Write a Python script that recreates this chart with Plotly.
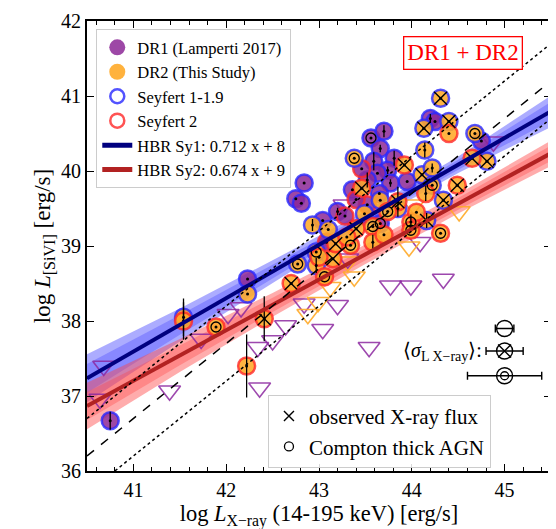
import plotly.graph_objects as go

# ---------------- data ----------------
# DR1 (Lamperti 2017), Seyfert 1-1.9
dr1_sy1_x = [44.20, 44.25, 43.56, 43.70, 43.66, 43.59, 43.81, 43.74, 43.36, 43.77, 43.65, 42.84, 42.75, 42.81,
             43.20, 43.04, 43.63, 43.95, 42.23, 40.75, 43.66, 44.75, 43.52]
dr1_sy1_y = [40.70, 40.66, 40.44, 40.53, 40.30, 40.13, 40.17, 40.01, 39.75, 39.84, 39.70, 39.84, 39.63, 39.57,
             39.46, 39.34, 39.97, 39.86, 38.56, 36.67, 39.30, 40.40, 39.88]
dr1_sy1_flag = ["", "", "ct", "", "", "", "", "", "", "", "", "", "", "",
                "", "", "", "", "", "", "ct", "", ""]
dr1_sy1_err = [0.06, 0, 0, 0.08, 0.05, 0.12, 0.10, 0.05, 0, 0.05, 0, 0, 0, 0,
               0.05, 0, 0, 0, 0, 0.12, 0, 0, 0.10]

# DR1, Seyfert 2
dr1_sy2_x = [43.46, 43.28, 43.08, 43.52, 43.40]
dr1_sy2_y = [40.03, 39.40, 39.05, 39.55, 39.62]
dr1_sy2_flag = ["", "", "", "", ""]
dr1_sy2_err = [0, 0, 0, 0, 0]

# DR2 (This Study), Seyfert 1-1.9
dr2_sy1_x = [44.31, 44.40, 44.13, 44.68, 44.14, 44.11, 44.81, 44.34, 44.22, 44.16, 43.38, 42.93, 42.97, 43.49,
             43.66, 44.22, 42.23, 41.54, 42.77, 42.97, 43.10, 43.85]
dr2_sy1_y = [40.97, 40.66, 40.57, 40.50, 40.28, 39.95, 40.13, 39.61, 40.04, 39.34, 40.17, 39.28, 38.74, 39.43,
             39.61, 39.81, 38.36, 38.05, 38.76, 38.92, 39.22, 39.50]
dr2_sy1_flag = ["x", "x", "x", "ct", "", "x", "x", "x", "", "x", "ct", "", "", "",
                "", "ct", "", "", "ct", "ct", "", ""]
dr2_sy1_err = [0, 0, 0, 0, 0.10, 0, 0, 0, 0.06, 0.10, 0, 0.08, 0.10, 0,
               0, 0, 0, 0.25, 0, 0, 0, 0]

# DR2, Seyfert 2
dr2_sy2_x = [44.40, 43.92, 44.65, 44.49, 44.31, 43.99, 43.99, 43.46, 42.70, 43.15, 43.06, 41.54, 41.89, 42.41,
             42.22, 43.85, 43.18, 43.34, 43.40, 43.58, 43.74, 43.58, 44.15, 43.30, 43.00, 43.70, 44.05]
dr2_sy2_y = [40.50, 40.08, 40.17, 39.81, 39.17, 39.32, 39.21, 39.77, 38.50, 38.83, 38.59, 38.00, 37.92, 38.03,
             37.40, 39.59, 39.03, 39.01, 39.23, 39.26, 39.46, 39.05, 39.70, 39.12, 38.85, 39.15, 39.45]
dr2_sy2_flag = ["", "x", "x", "x", "ct", "ct", "ct", "x", "x", "x", "ct", "", "ct", "x",
                "", "x", "x", "ct", "x", "ct", "ct", "", "", "", "", "", ""]
dr2_sy2_err = [0, 0, 0, 0, 0, 0.10, 0, 0, 0, 0, 0, 0.25, 0, 0.30,
               0.42, 0.20, 0, 0, 0, 0, 0, 0.10, 0.10, 0, 0, 0, 0]

# upper limits
dr1_ul_x = [40.68, 40.64, 41.39, 41.73, 42.02, 42.16, 42.34, 42.36, 42.50, 42.64, 42.84, 43.04, 43.20, 43.54,
            43.77, 43.99, 44.34, 44.09, 43.27, 43.31, 44.88]
dr1_ul_y = [37.40, 36.96, 37.07, 37.76, 38.09, 38.18, 37.65, 37.11, 37.74, 37.94, 38.23, 37.89, 38.21, 37.65,
            38.47, 38.47, 38.56, 39.05, 39.55, 38.83, 40.39]
dr2_ul_x = [42.88, 42.99, 43.31, 43.38, 43.97, 44.51, 44.02, 43.12]
dr2_ul_y = [38.09, 38.25, 38.79, 38.59, 38.99, 39.46, 39.55, 38.45]

# fitted relations (HBR)
sy1_slope, sy1_icpt = 0.712, 8.40
sy2_slope, sy2_icpt = 0.674, 9.57
band_x = [40.5, 41.5, 42.5, 43.5, 44.5, 45.5]
sy1_band_hw = [0.32, 0.22, 0.15, 0.09, 0.11, 0.21]
sy2_band_hw = [0.31, 0.22, 0.16, 0.13, 0.13, 0.17]

# 1:1 reference relation and scatter
ref_offset = -4.3
ref_scatter = 0.5

# mean X-ray uncertainty symbols
sig_y = [37.9, 37.6, 37.27]
sig_err = [0.10, 0.20, 0.40]
sig_x = 45.0

x_range = [40.5, 45.5]
y_range = [36, 42]

# ---------------- style ----------------
PURPLE = "rgba(140,40,150,0.85)"
ORANGE = "rgba(255,170,40,0.88)"
BLUE_E = "rgba(40,40,255,0.8)"
RED_E = "rgba(255,40,40,0.8)"
FONT = "Liberation Serif"

fig = go.Figure()

def band(xs, slope, icpt, hw, frac, color):
    yc = [slope * x + icpt for x in xs]
    up = [c + h * frac for c, h in zip(yc, hw)]
    lo = [c - h * frac for c, h in zip(yc, hw)]
    fig.add_trace(go.Scatter(x=xs + xs[::-1], y=up + lo[::-1], fill="toself", fillcolor=color,
                             line=dict(width=0), mode="lines", showlegend=False, hoverinfo="skip"))

band(band_x, sy1_slope, sy1_icpt, sy1_band_hw, 1.0, "rgba(70,70,255,0.45)")
band(band_x, sy1_slope, sy1_icpt, sy1_band_hw, 0.6, "rgba(70,70,255,0.35)")
band(band_x, sy2_slope, sy2_icpt, sy2_band_hw, 1.0, "rgba(255,70,70,0.45)")
band(band_x, sy2_slope, sy2_icpt, sy2_band_hw, 0.6, "rgba(255,70,70,0.35)")

# upper limits
fig.add_trace(go.Scatter(x=dr1_ul_x, y=dr1_ul_y, mode="markers", showlegend=False,
                         marker=dict(symbol="triangle-down-open", size=19, color="rgba(140,40,160,0.85)",
                                     line=dict(width=1.6))))
fig.add_trace(go.Scatter(x=dr2_ul_x, y=dr2_ul_y, mode="markers", showlegend=False,
                         marker=dict(symbol="triangle-down-open", size=19, color="rgba(255,170,40,0.9)",
                                     line=dict(width=1.6))))

groups = [
    (dr1_sy1_x, dr1_sy1_y, dr1_sy1_flag, dr1_sy1_err, PURPLE, BLUE_E),
    (dr1_sy2_x, dr1_sy2_y, dr1_sy2_flag, dr1_sy2_err, PURPLE, RED_E),
    (dr2_sy1_x, dr2_sy1_y, dr2_sy1_flag, dr2_sy1_err, ORANGE, BLUE_E),
    (dr2_sy2_x, dr2_sy2_y, dr2_sy2_flag, dr2_sy2_err, ORANGE, RED_E),
]
for gx, gy, gf, ge, fc, ec in groups:
    fig.add_trace(go.Scatter(x=gx, y=gy, mode="markers", showlegend=False,
                             marker=dict(symbol="circle", size=17, color=fc, line=dict(color=ec, width=2.5))))

for gx, gy, gf, ge, fc, ec in groups:
    fig.add_trace(go.Scatter(x=gx, y=gy, mode="markers", showlegend=False,
                             marker=dict(symbol="circle", size=3, color="black"),
                             error_y=dict(type="data", array=ge, color="black", thickness=1.3, width=0)))
    xs = [a for a, f in zip(gx, gf) if f == "x"]
    ys = [b for b, f in zip(gy, gf) if f == "x"]
    fig.add_trace(go.Scatter(x=xs, y=ys, mode="markers", showlegend=False,
                             marker=dict(symbol="x-thin", size=13, line=dict(color="black", width=1.4))))
    xc = [a for a, f in zip(gx, gf) if f == "ct"]
    yc = [b for b, f in zip(gy, gf) if f == "ct"]
    fig.add_trace(go.Scatter(x=xc, y=yc, mode="markers", showlegend=False,
                             marker=dict(symbol="circle-open", size=10, color="black", line=dict(width=1.3))))

# fitted lines
fig.add_trace(go.Scatter(x=x_range, y=[sy1_slope * x + sy1_icpt for x in x_range], mode="lines",
                         line=dict(color="#00007f", width=4), showlegend=False))
fig.add_trace(go.Scatter(x=x_range, y=[sy2_slope * x + sy2_icpt for x in x_range], mode="lines",
                         line=dict(color="#b22222", width=4), showlegend=False))

# reference relations
fig.add_trace(go.Scatter(x=x_range, y=[x + ref_offset for x in x_range], mode="lines",
                         line=dict(color="black", width=1.5, dash="dash"), showlegend=False))
for s in (-ref_scatter, ref_scatter):
    fig.add_trace(go.Scatter(x=x_range, y=[x + ref_offset + s for x in x_range], mode="lines",
                             line=dict(color="black", width=1.5, dash="dot"), showlegend=False))

# sigma symbols
fig.add_trace(go.Scatter(x=[sig_x] * 3, y=sig_y, mode="markers", showlegend=False,
                         marker=dict(symbol="circle-open", size=16, color="black", line=dict(width=1.4)),
                         error_x=dict(type="data", array=sig_err, color="black", thickness=1.4, width=4)))
fig.add_trace(go.Scatter(x=[sig_x], y=[sig_y[1]], mode="markers", showlegend=False,
                         marker=dict(symbol="x-thin", size=13, line=dict(color="black", width=1.4))))
fig.add_trace(go.Scatter(x=[sig_x], y=[sig_y[2]], mode="markers", showlegend=False,
                         marker=dict(symbol="circle-open", size=8, color="black", line=dict(width=1.3))))

# legend entries
leg = [
    ("DR1 (Lamperti 2017)", dict(symbol="circle", size=16, color="rgba(140,40,150,0.85)")),
    ("DR2 (This Study)", dict(symbol="circle", size=16, color="rgba(255,170,40,0.9)")),
    ("Seyfert 1-1.9", dict(symbol="circle-open", size=14, color=BLUE_E, line=dict(width=2.5))),
    ("Seyfert 2", dict(symbol="circle-open", size=14, color=RED_E, line=dict(width=2.5))),
]
for name, mk in leg:
    fig.add_trace(go.Scatter(x=[None], y=[None], mode="markers", name=name, marker=mk, legend="legend"))
fig.add_trace(go.Scatter(x=[None], y=[None], mode="lines", name="HBR Sy1: 0.712 x + 8",
                         line=dict(color="#00007f", width=5), legend="legend"))
fig.add_trace(go.Scatter(x=[None], y=[None], mode="lines", name="HBR Sy2: 0.674 x + 9",
                         line=dict(color="#b22222", width=5), legend="legend"))
fig.add_trace(go.Scatter(x=[None], y=[None], mode="markers", name="observed X-ray flux",
                         marker=dict(symbol="x-thin", size=10, line=dict(color="black", width=1.4)),
                         legend="legend2"))
fig.add_trace(go.Scatter(x=[None], y=[None], mode="markers", name="Compton thick AGN",
                         marker=dict(symbol="circle-open", size=9, color="black", line=dict(width=1.3)),
                         legend="legend2"))

axis_common = dict(showline=True, linecolor="black", linewidth=2, mirror="allticks", ticks="inside",
                   ticklen=7, tickwidth=1.3, tickcolor="black", showgrid=False, zeroline=False,
                   automargin=False,
                   tickfont=dict(family=FONT, size=20, color="black"))

fig.update_layout(
    width=556, height=529,
    margin=dict(l=79, r=13, t=13, b=66, autoexpand=False),
    plot_bgcolor="white", paper_bgcolor="white",
    font=dict(family=FONT, color="black"),
    xaxis=dict(range=x_range, tickmode="array", tickvals=[41, 42, 43, 44, 45],
               minor=dict(ticks="inside", dtick=0.2, ticklen=4, tickcolor="black", tickwidth=1),
               title=dict(text="log <i>L</i><sub>X−ray</sub> (14-195 keV) [erg/s]",
                          font=dict(family=FONT, size=22.5), standoff=0),
               **axis_common),
    yaxis=dict(range=y_range, tickmode="array", tickvals=[36, 37, 38, 39, 40, 41, 42],
               title=dict(text="log <i>L</i><sub>[SiVI]</sub> [erg/s]", font=dict(family=FONT, size=23),
                          standoff=4),
               **axis_common),
    legend=dict(x=0.02, y=0.982, xanchor="left", yanchor="top", bgcolor="rgba(255,255,255,0.85)",
                bordercolor="#cccccc", borderwidth=1, font=dict(family=FONT, size=16.5),
                tracegroupgap=0, itemwidth=30),
    legend2=dict(x=0.39, y=0.169, xanchor="left", yanchor="top", bgcolor="rgba(255,255,255,0.85)",
                 bordercolor="#cccccc", borderwidth=1, font=dict(family=FONT, size=21),
                 tracegroupgap=0, itemwidth=30),
    annotations=[
        dict(x=(455 - 79) / 464, y=(463 - 45) / 450, xref="paper", yref="paper", text="DR1 + DR2",
             xanchor="center", yanchor="middle",
             showarrow=False, font=dict(family=FONT, size=23, color="red"), bordercolor="red",
             borderwidth=1.3, borderpad=3, bgcolor="white"),
        dict(x=44.78, y=37.6, xref="x", yref="y", xanchor="right", yanchor="middle",
             text="⟨<i>σ</i><sub>L X−ray</sub>⟩:",
             showarrow=False, font=dict(family=FONT, size=20, color="black")),
    ],
)

fig.write_html("out.html")
